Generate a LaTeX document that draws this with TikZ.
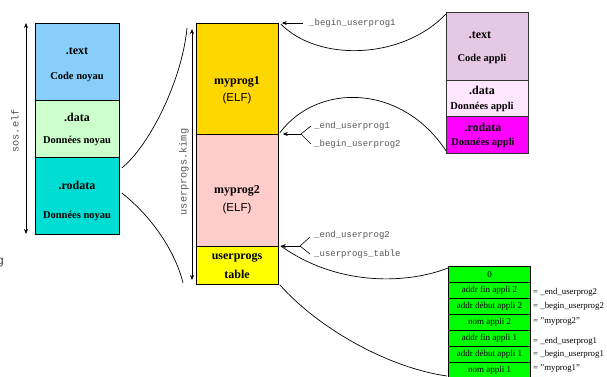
\documentclass[tikz,border=0pt]{standalone}
\usepackage{fontspec}
\setmainfont{Liberation Serif}
\newfontfamily\hvfont{Liberation Sans}
\newfontfamily\crfont{Liberation Mono}
\usetikzlibrary{arrows.meta}

\definecolor{ltextc}{RGB}{135,206,250}
\definecolor{ldatac}{RGB}{204,255,204}
\definecolor{lrodc}{RGB}{0,222,211}
\definecolor{progAc}{RGB}{255,215,0}
\definecolor{progBc}{RGB}{255,204,204}
\definecolor{tablec}{RGB}{255,255,0}
\definecolor{rtextc}{RGB}{230,200,228}
\definecolor{rdatac}{RGB}{255,230,255}
\definecolor{rrodc}{RGB}{255,0,255}
\definecolor{entryc}{RGB}{0,255,0}
\definecolor{monoc}{RGB}{85,85,85}

\tikzset{
  sect/.style={draw=black, line width=0.8pt, inner sep=0pt, anchor=north west},
  entry/.style={sect, fill=entryc, minimum width=82pt, minimum height=16pt,
    line width=1pt, font=\fontsize{9}{10}\selectfont},
  ttl/.style={inner sep=0pt, font=\fontsize{12}{13}\selectfont\bfseries},
  sub/.style={inner sep=0pt, font=\fontsize{10.5}{12}\selectfont\bfseries},
  elf/.style={inner sep=0pt, font=\fontsize{11.5}{13}\selectfont\hvfont},
  sym/.style={inner sep=0pt, anchor=west, text=monoc, font=\fontsize{9}{10}\selectfont\crfont},
  vlbl/.style={inner sep=0pt, rotate=90, text=monoc, font=\fontsize{10.3}{11}\selectfont\crfont},
  eqn/.style={inner sep=0pt, anchor=west, font=\fontsize{8.8}{10}\selectfont},
  ptr/.style={-{Stealth[length=5pt,width=4pt]}, line width=0.6pt},
  span/.style={{Stealth[length=5pt,width=4pt]}-{Stealth[length=5pt,width=4pt]}, line width=0.6pt},
  lens/.style={line width=0.7pt},
}

\begin{document}
\begin{tikzpicture}[x=1pt,y=-1pt]
\useasboundingbox (0,0) rectangle (607,376);

% kernel image sos.elf
\node[sect, fill=ltextc, minimum width=84pt, minimum height=77pt] (ktext) at (35,23) {};
\node[sect, fill=ldatac, minimum width=84pt, minimum height=57pt] (kdata) at (35,100) {};
\node[sect, fill=lrodc,  minimum width=84pt, minimum height=77pt] (krod)  at (35,157) {};
\node[ttl] (ktextA) at (77,51) {.text};
\node[sub] (ktextB) at (77,77) {Code noyau};
\node[ttl] (kdataA) at (77,117) {.data};
\node[sub] (kdataB) at (77,141) {Données noyau};
\node[ttl] (krodA) at (77,185) {.rodata};
\node[sub] (krodB) at (77,216) {Données noyau};

\coordinate (sosT) at (26,23);
\coordinate (sosB) at (26,234);
\draw[span] (sosT) -- (sosB);
\node[vlbl] (sos) at (15,131) {sos.elf};

% user programs image
\node[sect, fill=progAc, minimum width=82pt, minimum height=111pt] (progA) at (196,23) {};
\node[sect, fill=progBc, minimum width=82pt, minimum height=112pt] (progB) at (196,134) {};
\node[sect, fill=tablec, minimum width=82pt, minimum height=38pt] (utab) at (196,246) {};
\node[ttl] (progAa) at (237,82) {myprog1};
\node[elf] (progAb) at (237,99) {(ELF)};
\node[ttl] (progBa) at (237,191) {myprog2};
\node[elf] (progBb) at (237,209) {(ELF)};
\node[ttl] (utabA) at (237,258) {userprogs};
\node[ttl] (utabB) at (237,274) {table};

\coordinate (kimgT) at (192,29);
\coordinate (kimgB) at (192,280);
\draw[span] (kimgT) -- (kimgB);
\node[vlbl] (kimg) at (184,172) {userprogs.kimg};

% kernel .rodata holds the user programs image
\draw[lens] ([xshift=2pt,yshift=-11pt]krod.north east) .. controls (150,145) and (182,80) .. (187,28);
\draw[lens] ([xshift=2pt,yshift=-36pt]krod.north east) .. controls (150,215) and (175,250) .. (183,283);

% symbols
\coordinate (s1) at (303,23);
\draw[ptr] (s1) -- ([xshift=3pt]progA.north east);
\node[sym] (s1t) at (309,23) {\_begin\_userprog1};

\coordinate (f1) at (301,134);
\draw[ptr] (f1) -- ([xshift=4pt]progB.north east);
\draw[line width=0.6pt] (311,126) -- (f1) -- (311,144);
\node[sym] (f1a) at (314,126) {\_end\_userprog1};
\node[sym] (f1b) at (314,144) {\_begin\_userprog2};

\coordinate (f2) at (300,246);
\draw[ptr] (f2) -- ([xshift=2pt]utab.north east);
\draw[line width=0.6pt] (310,237) -- (f2) -- (310,254);
\node[sym] (f2a) at (314,235) {\_end\_userprog2};
\node[sym] (f2b) at (314,254) {\_userprogs\_table};

% sections of one user program
\node[sect, draw=black!80, fill=rtextc, minimum width=82pt, minimum height=68pt] (atext) at (446,12) {};
\node[sect, draw=black!80, fill=rdatac, minimum width=82pt, minimum height=36pt] (adata) at (446,80) {};
\node[sect, draw=black!80, fill=rrodc,  minimum width=82pt, minimum height=37pt] (arod)  at (446,116) {};
\node[ttl] (atextA) at (480,35) {.text};
\node[sub] (atextB) at (482,59) {Code appli};
\node[ttl] (adataA) at (482,90) {.data};
\node[sub] (adataB) at (482,107) {Données appli};
\node[ttl] (arodA) at (483,127) {.rodata};
\node[sub] (arodB) at (483,143) {Données appli};

\draw[lens] ([xshift=2pt,yshift=-1pt]progA.north east) .. controls (318,62) and (402,60) .. ([yshift=-2pt]atext.north west);
\draw[lens] ([xshift=1pt,yshift=2pt]progA.south east) .. controls (318,82) and (402,84) .. ([yshift=3pt]arod.south west);

% table of user programs
\node[entry] (e0) at (448,266) {0};
\node[entry] (e1) at (448,282) {addr fin appli 2};
\node[entry] (e2) at (448,298) {addr début appli 2};
\node[entry] (e3) at (448,314) {nom appli 2};
\node[entry] (e4) at (448,330) {addr fin appli 1};
\node[entry] (e5) at (448,346) {addr début appli 1};
\node[entry] (e6) at (448,362) {nom appli 1};

\node[eqn] (q1) at (533,292) {= \_end\_userprog2};
\node[eqn] (q2) at (533,306) {= \_begin\_userprog2};
\node[eqn] (q3) at (533,322) {= "myprog2"};
\node[eqn] (q4) at (533,341) {= \_end\_userprog1};
\node[eqn] (q5) at (533,354) {= \_begin\_userprog1};
\node[eqn] (q6) at (533,369) {= "myprog1"};

\draw[lens] ([xshift=2pt]utab.north east) .. controls (340,288) and (410,283) .. ([yshift=-2pt]e0.north west);
\draw[lens] ([xshift=1pt]utab.south east) .. controls (320,330) and (390,368) .. (447,376);

% clipped letter on the left border
\node[inner sep=0pt, anchor=base west, text=black!75, font=\fontsize{12}{13}\selectfont\hvfont] (gl) at (-3,264) {g};
\end{tikzpicture}
\end{document}
